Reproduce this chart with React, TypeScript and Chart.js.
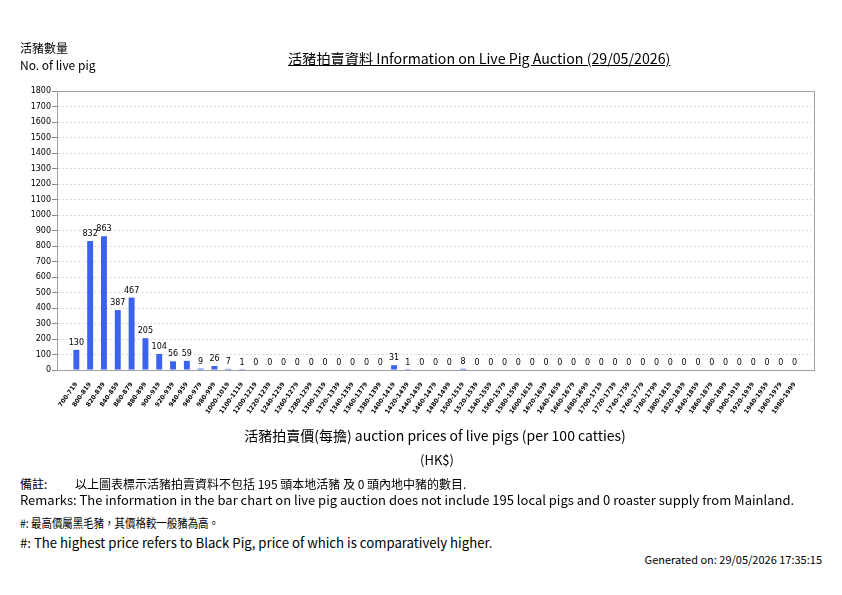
import { useEffect, useRef } from 'react';
import { Chart, CategoryScale, registerables } from 'chart.js';

// category axis with some extra room at both ends, like the reference
class PaddedCategoryScale extends CategoryScale {
  static id = 'paddedCategory';
  static defaults = CategoryScale.defaults;
  buildTicks() {
    const ticks = super.buildTicks();
    const pad = 0.9;
    (this as any)._startValue -= pad;
    (this as any)._valueRange += pad * 2;
    return ticks;
  }
}

Chart.register(...registerables, PaddedCategoryScale);

// price ranges (HK$ per 100 catties)
const priceRanges = [
  '700-719', '800-819', '820-839', '840-859', '860-879', '880-899', '900-919', '920-939',
  '940-959', '960-979', '980-999', '1000-1019', '1100-1119', '1200-1219', '1220-1239',
  '1240-1259', '1260-1279', '1280-1299', '1300-1319', '1320-1339', '1340-1359', '1360-1379',
  '1380-1399', '1400-1419', '1420-1439', '1440-1459', '1460-1479', '1480-1499', '1500-1519',
  '1520-1539', '1540-1559', '1560-1579', '1580-1599', '1600-1619', '1620-1639', '1640-1659',
  '1660-1679', '1680-1699', '1700-1719', '1720-1739', '1740-1759', '1760-1779', '1780-1799',
  '1800-1819', '1820-1839', '1840-1859', '1860-1879', '1880-1899', '1900-1919', '1920-1939',
  '1940-1959', '1960-1979', '1980-1999',
];

// number of live pigs in each range
const pigCounts = [
  130, 832, 863, 387, 467, 205, 104, 56, 59, 9, 26, 7, 1, 0, 0,
  0, 0, 0, 0, 0, 0, 0,
  0, 31, 1, 0, 0, 0, 8,
  0, 0, 0, 0, 0, 0, 0,
  0, 0, 0, 0, 0, 0, 0,
  0, 0, 0, 0, 0, 0, 0,
  0, 0, 0,
];

const yMax = 1800;
const yStep = 100;

const font = '"DejaVu Sans", sans-serif';
const textFont = '"Noto Sans CJK TC", "DejaVu Sans", sans-serif';

// value labels above each bar
const valueLabels = {
  id: 'valueLabels',
  afterDatasetsDraw(chart: any) {
    const { ctx } = chart;
    const meta = chart.getDatasetMeta(0);
    ctx.save();
    ctx.font = `8px ${font}`;
    ctx.fillStyle = '#000';
    ctx.textAlign = 'center';
    ctx.textBaseline = 'bottom';
    meta.data.forEach((bar: any, i: number) => {
      ctx.fillText(String(pigCounts[i]), bar.x, bar.y - 3);
    });
    ctx.restore();
  },
};

// grey frame round the plot
const plotFrame = {
  id: 'plotFrame',
  afterDraw(chart: any) {
    const { ctx, chartArea: a } = chart;
    ctx.save();
    ctx.strokeStyle = '#a0a0a0';
    ctx.lineWidth = 1;
    ctx.strokeRect(Math.round(a.left) + 0.5, Math.round(a.top) + 0.5, Math.round(a.right - a.left), Math.round(a.bottom - a.top));
    ctx.restore();
  },
};

function AuctionChart() {
  const canvasRef = useRef<HTMLCanvasElement>(null);

  useEffect(() => {
    if (!canvasRef.current) return;
    const chart = new Chart(canvasRef.current, {
      type: 'bar',
      data: {
        labels: priceRanges,
        datasets: [{
          data: pigCounts,
          backgroundColor: '#3b63f0',
          barPercentage: 0.43,
          categoryPercentage: 1,
        }],
      },
      options: {
        responsive: false,
        animation: false,
        layout: { padding: { top: 91, right: 28, left: 0, bottom: 0 } },
        plugins: {
          legend: { display: false },
          tooltip: { enabled: false },
        },
        scales: {
          x: {
            type: 'paddedCategory' as any,
            afterFit: (scale: any) => { scale.height = 70; },
            grid: { display: false },
            border: { display: true, color: '#888' },
            ticks: {
              autoSkip: false,
              minRotation: 55,
              maxRotation: 55,
              padding: 3,
              color: '#000',
              font: { family: font, size: 6.2, weight: 'bold' },
            },
          },
          y: {
            min: 0,
            max: yMax,
            afterFit: (scale: any) => { scale.width = 57; },
            border: { display: true, color: '#888', dash: [2, 2] },
            grid: {
              color: '#dcdcdc',
              tickColor: '#888',
              tickBorderDash: [],
              tickLength: 5,
            },
            ticks: {
              stepSize: yStep,
              padding: 1,
              color: '#000',
              font: { family: font, size: 8 },
              callback: (v: any) => String(v),
            },
          },
        },
      },
      plugins: [valueLabels, plotFrame],
    });
    return () => chart.destroy();
  }, []);

  return (
    <canvas
      ref={canvasRef}
      width={842}
      height={440}
      style={{ position: 'absolute', left: 0, top: 0, width: 842, height: 440 }}
    />
  );
}

const txt = (left: number, top: number, size: number, extra: any = {}) => ({
  position: 'absolute' as const,
  left,
  top,
  fontSize: size,
  lineHeight: `${size + 2}px`,
  whiteSpace: 'nowrap' as const,
  fontFamily: textFont,
  color: '#000',
  ...extra,
});

export default function App() {
  useEffect(() => {
    document.body.style.margin = '0';
  }, []);

  return (
    <div style={{ position: 'relative', width: 842, height: 595, background: '#fff', overflow: 'hidden' }}>
      <AuctionChart />
      <div style={txt(20, 41, 12)}>活豬數量</div>
      <div style={txt(20, 58, 12)}>No. of live pig</div>
      <div style={txt(288, 50, 14.2, { textDecoration: 'underline' })}>
        活豬拍賣資料 Information on Live Pig Auction (29/05/2026)
      </div>
      <div style={txt(0, 427, 14, { width: 870, textAlign: 'center' })}>
        活豬拍賣價(每擔) auction prices of live pigs (per 100 catties)
      </div>
      <div style={txt(0, 452, 13, { width: 874, textAlign: 'center' })}>(HK$)</div>
      <div style={txt(20, 477, 12)}>備註:</div>
      <div style={txt(75, 477, 12)}>以上圖表標示活豬拍賣資料不包括 195 頭本地活豬 及 0 頭內地中豬的數目.</div>
      <div style={txt(20, 492, 13)}>
        Remarks: The information in the bar chart on live pig auction does not include 195 local pigs and 0 roaster supply from Mainland.
      </div>
      <div style={txt(20, 516, 12, { transform: 'scaleX(0.87)', transformOrigin: 'left center' })}>
        #: 最高價屬黑毛豬，其價格較一般豬為高。
      </div>
      <div style={txt(20, 535, 13.2)}>#: The highest price refers to Black Pig, price of which is comparatively higher.</div>
      <div style={txt(0, 553, 11, { width: 822, textAlign: 'right' })}>Generated on: 29/05/2026 17:35:15</div>
    </div>
  );
}
